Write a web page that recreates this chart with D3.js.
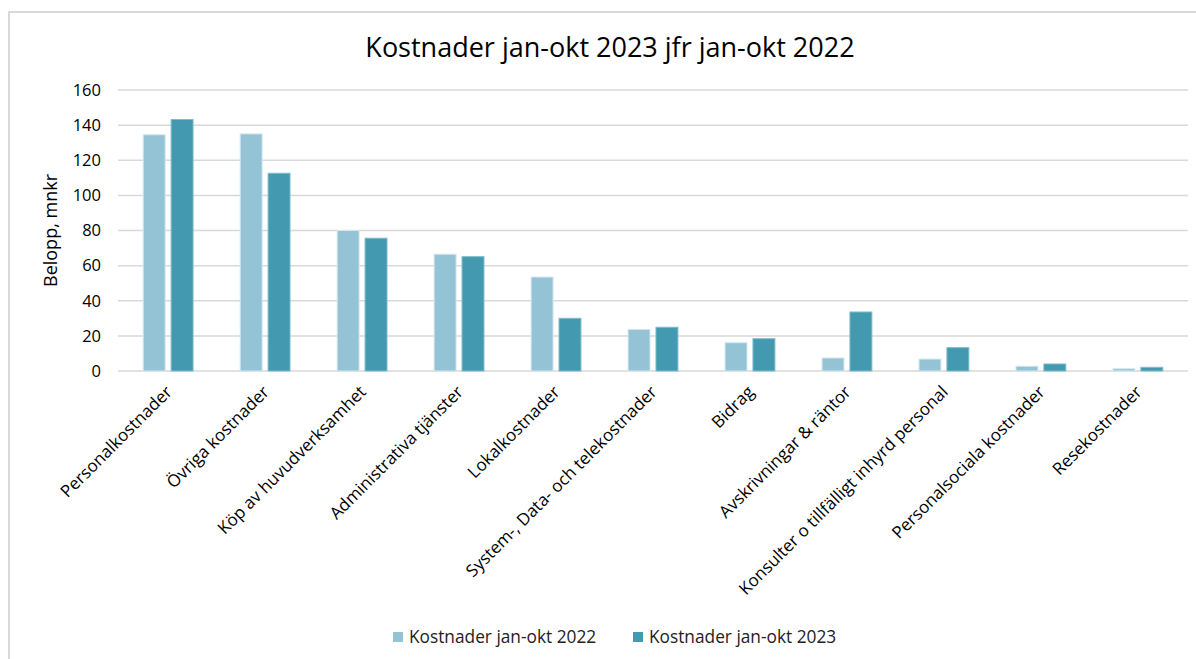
<!DOCTYPE html>
<html>
<head>
<meta charset="utf-8">
<script src="https://cdn.jsdelivr.net/npm/d3@7"></script>
<style>
  body { margin: 0; background: #fff; }
  svg { display: block; font-family: "Open Sans", "Noto Sans", sans-serif; }
</style>
</head>
<body>
<div id="chart"></div>
<script>
'use strict';

// Chart data
const categories = [
    'Personalkostnader',
    'Övriga kostnader',
    'Köp av huvudverksamhet',
    'Administrativa tjänster',
    'Lokalkostnader',
    'System-, Data- och telekostnader',
    'Bidrag',
    'Avskrivningar & räntor',
    'Konsulter o tillfälligt inhyrd personal',
    'Personalsociala kostnader',
    'Resekostnader'
];
const seriesNames = ['Kostnader jan-okt 2022', 'Kostnader jan-okt 2023'];
const values2022 = [134.5, 135, 80, 66.5, 53.5, 23.7, 16.1, 7.4, 6.8, 2.7, 1.3];
const values2023 = [143.2, 112.6, 75.6, 65.1, 30, 24.9, 18.4, 33.6, 13.3, 4.0, 2.1];
const yTicks = [0, 20, 40, 60, 80, 100, 120, 140, 160];
const palette = ['#93c3d4', '#4399af'];
const strokes = ['#d3e8ef', '#7dbccc'];

const width = 1196, height = 659;
const margins = { top: 90, right: 8, bottom: 288, left: 118 };

const svg = d3.select('#chart').append('svg')
    .attr('width', width)
    .attr('height', height);

// Outer frame
svg.append('rect')
    .attr('x', 9).attr('y', 12)
    .attr('width', width + 10).attr('height', height + 10)
    .attr('fill', '#fff')
    .attr('stroke', '#d9d9d9')
    .attr('stroke-width', 2);

const chartW = width - margins.left - margins.right;
const chartH = height - margins.top - margins.bottom;

const scaleX = d3.scaleBand()
    .domain(categories)
    .range([0, chartW])
    .paddingInner(0.486)
    .paddingOuter(0.26);

const scaleSeries = d3.scaleBand()
    .domain(seriesNames)
    .range([0, scaleX.bandwidth()])
    .paddingInner(0.214);

const scaleY = d3.scaleLinear()
    .domain([0, 160])
    .range([chartH, 0]);

const chart = svg.append('g')
    .attr('transform', `translate(${margins.left}, ${margins.top})`);

// Gridlines
chart.append('g')
    .selectAll('line')
    .data(yTicks)
    .join('line')
    .attr('x1', 0).attr('x2', chartW)
    .attr('y1', d => scaleY(d)).attr('y2', d => scaleY(d))
    .attr('stroke', '#d9d9d9')
    .attr('stroke-width', 1.5);

// Y axis labels
const axisY = chart.append('g')
    .call(d3.axisLeft(scaleY).tickValues(yTicks).tickSize(0).tickPadding(17));
axisY.select('.domain').remove();
axisY.selectAll('text')
    .attr('font-size', 16.5)
    .attr('font-family', '"Open Sans", sans-serif')
    .attr('fill', '#000');

// Bars
const rows = categories.map((c, i) => ({ category: c, values: [values2022[i], values2023[i]] }));

const groups = chart.append('g')
    .selectAll('g')
    .data(rows)
    .join('g')
    .attr('transform', d => `translate(${scaleX(d.category)}, 0)`);

groups.selectAll('rect')
    .data(d => d.values.map((v, j) => ({ series: seriesNames[j], idx: j, value: v })))
    .join('rect')
    .attr('x', d => scaleSeries(d.series))
    .attr('y', d => scaleY(d.value))
    .attr('width', scaleSeries.bandwidth())
    .attr('height', d => chartH - scaleY(d.value))
    .attr('fill', d => palette[d.idx])
    .attr('stroke', d => strokes[d.idx])
    .attr('stroke-width', 1);

// X axis labels, rotated
const axisX = chart.append('g')
    .attr('transform', `translate(0, ${chartH})`)
    .call(d3.axisBottom(scaleX).tickSize(0).tickPadding(0));
axisX.select('.domain').remove();
axisX.selectAll('text')
    .attr('font-size', 17)
    .attr('font-family', '"Open Sans", sans-serif')
    .attr('fill', '#000')
    .attr('dy', 0)
    .attr('transform', 'translate(5, 22) rotate(-45)')
    .style('text-anchor', 'end');

// Axis title
svg.append('text')
    .attr('transform', `translate(57, ${margins.top + chartH / 2}) rotate(-90)`)
    .style('text-anchor', 'middle')
    .attr('font-size', 18)
    .text('Belopp, mnkr');

// Title
svg.append('text')
    .attr('x', 610)
    .attr('y', 57)
    .style('text-anchor', 'middle')
    .attr('font-size', 27)
    .text('Kostnader jan-okt 2023 jfr jan-okt 2022');

// Legend
const legendX = [393, 633];
const legend = svg.append('g')
    .selectAll('g')
    .data(seriesNames)
    .join('g')
    .attr('transform', (d, i) => `translate(${legendX[i]}, 632)`);

legend.append('rect')
    .attr('width', 10).attr('height', 10)
    .attr('fill', (d, i) => palette[i]);

legend.append('text')
    .attr('x', 16)
    .attr('y', 11)
    .attr('font-size', 17.3)
    .attr('fill', '#222')
    .text(d => d);
</script>
</body>
</html>
